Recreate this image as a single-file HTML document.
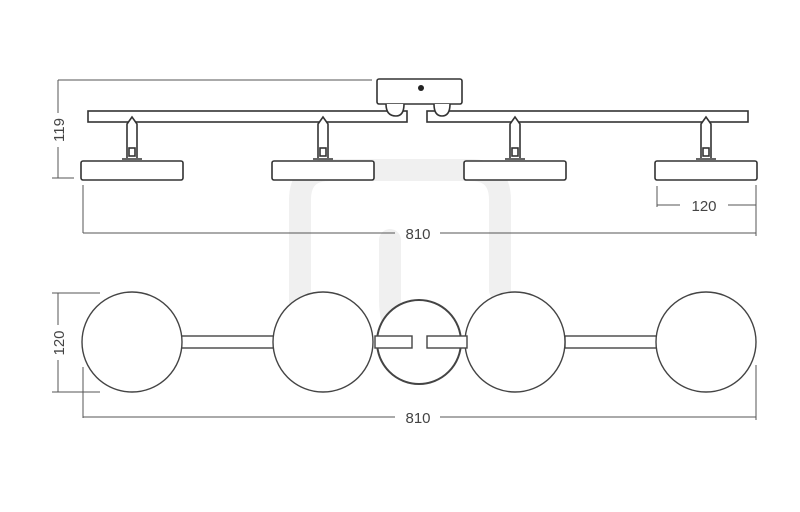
<!DOCTYPE html>
<html><head><style>body{margin:0;background:#fff}svg{display:block}text{font-family:"Liberation Sans",sans-serif;font-size:15px;fill:#444}</style></head><body>
<svg width="800" height="512" viewBox="0 0 800 512">
<g fill="none" stroke="#f0f0f0" stroke-width="22" stroke-linecap="round">
<path d="M300 330 V200 Q300 170 330 170 H470 Q500 170 500 200 V290"/>
<path d="M390 240 V300 Q390 340 420 340"/>
</g>
<g stroke="#555" stroke-width="1" fill="none">
<line x1="58" y1="80" x2="372" y2="80"/><line x1="58" y1="80" x2="58" y2="113"/><line x1="58" y1="147" x2="58" y2="178"/><line x1="52" y1="178" x2="74" y2="178"/>
<line x1="83" y1="185" x2="83" y2="233"/><line x1="83" y1="233" x2="395" y2="233"/><line x1="440" y1="233" x2="756" y2="233"/><line x1="756" y1="185" x2="756" y2="236"/>
<line x1="657" y1="186" x2="657" y2="207"/><line x1="657" y1="205" x2="680" y2="205"/><line x1="728" y1="205" x2="756" y2="205"/>
<line x1="52" y1="293" x2="100" y2="293"/><line x1="58" y1="293" x2="58" y2="325"/><line x1="58" y1="360" x2="58" y2="392"/><line x1="52" y1="392" x2="100" y2="392"/>
<line x1="83" y1="367" x2="83" y2="418"/><line x1="83" y1="417" x2="395" y2="417"/><line x1="440" y1="417" x2="756" y2="417"/><line x1="756" y1="365" x2="756" y2="420"/>
</g>
<text x="418" y="239" text-anchor="middle">810</text>
<text x="418" y="423" text-anchor="middle">810</text>
<text x="704" y="211" text-anchor="middle">120</text>
<text transform="translate(64,130) rotate(-90)" text-anchor="middle">119</text>
<text transform="translate(64,343) rotate(-90)" text-anchor="middle">120</text>
<g stroke="#333" stroke-width="1.6" fill="#fff">
<rect x="377" y="79" width="85" height="25" rx="2"/>
<circle cx="421" cy="88" r="3" fill="#222" stroke="none"/>
<rect x="88" y="111" width="319" height="11"/>
<rect x="427" y="111" width="321" height="11"/>
<path d="M386 104 Q386 116 396 116 Q404 116 404 104"/><path d="M434 104 Q434 116 442 116 Q450 116 450 104"/>
</g>
<g stroke="#333" stroke-width="1.6" fill="#fff">
<g id="l"><path d="M127 158 V124 L132 117 L137 124 V158"/><rect x="129" y="148" width="6" height="8"/><line x1="122" y1="159" x2="142" y2="159"/><rect x="81" y="161" width="102" height="19" rx="2"/></g>
<use href="#l" x="191"/><use href="#l" x="383"/><use href="#l" x="574"/>
</g>
<g stroke="#444" stroke-width="1.4" fill="#fff">
<rect x="180" y="336" width="96" height="12"/><rect x="565" y="336" width="96" height="12"/>
<circle cx="132" cy="342" r="50"/><circle cx="323" cy="342" r="50"/><circle cx="515" cy="342" r="50"/><circle cx="706" cy="342" r="50"/>
<circle cx="419" cy="342" r="42" stroke-width="2"/>
<rect x="375" y="336" width="37" height="12"/><rect x="427" y="336" width="40" height="12"/>
</g>
</svg>
</body></html>
